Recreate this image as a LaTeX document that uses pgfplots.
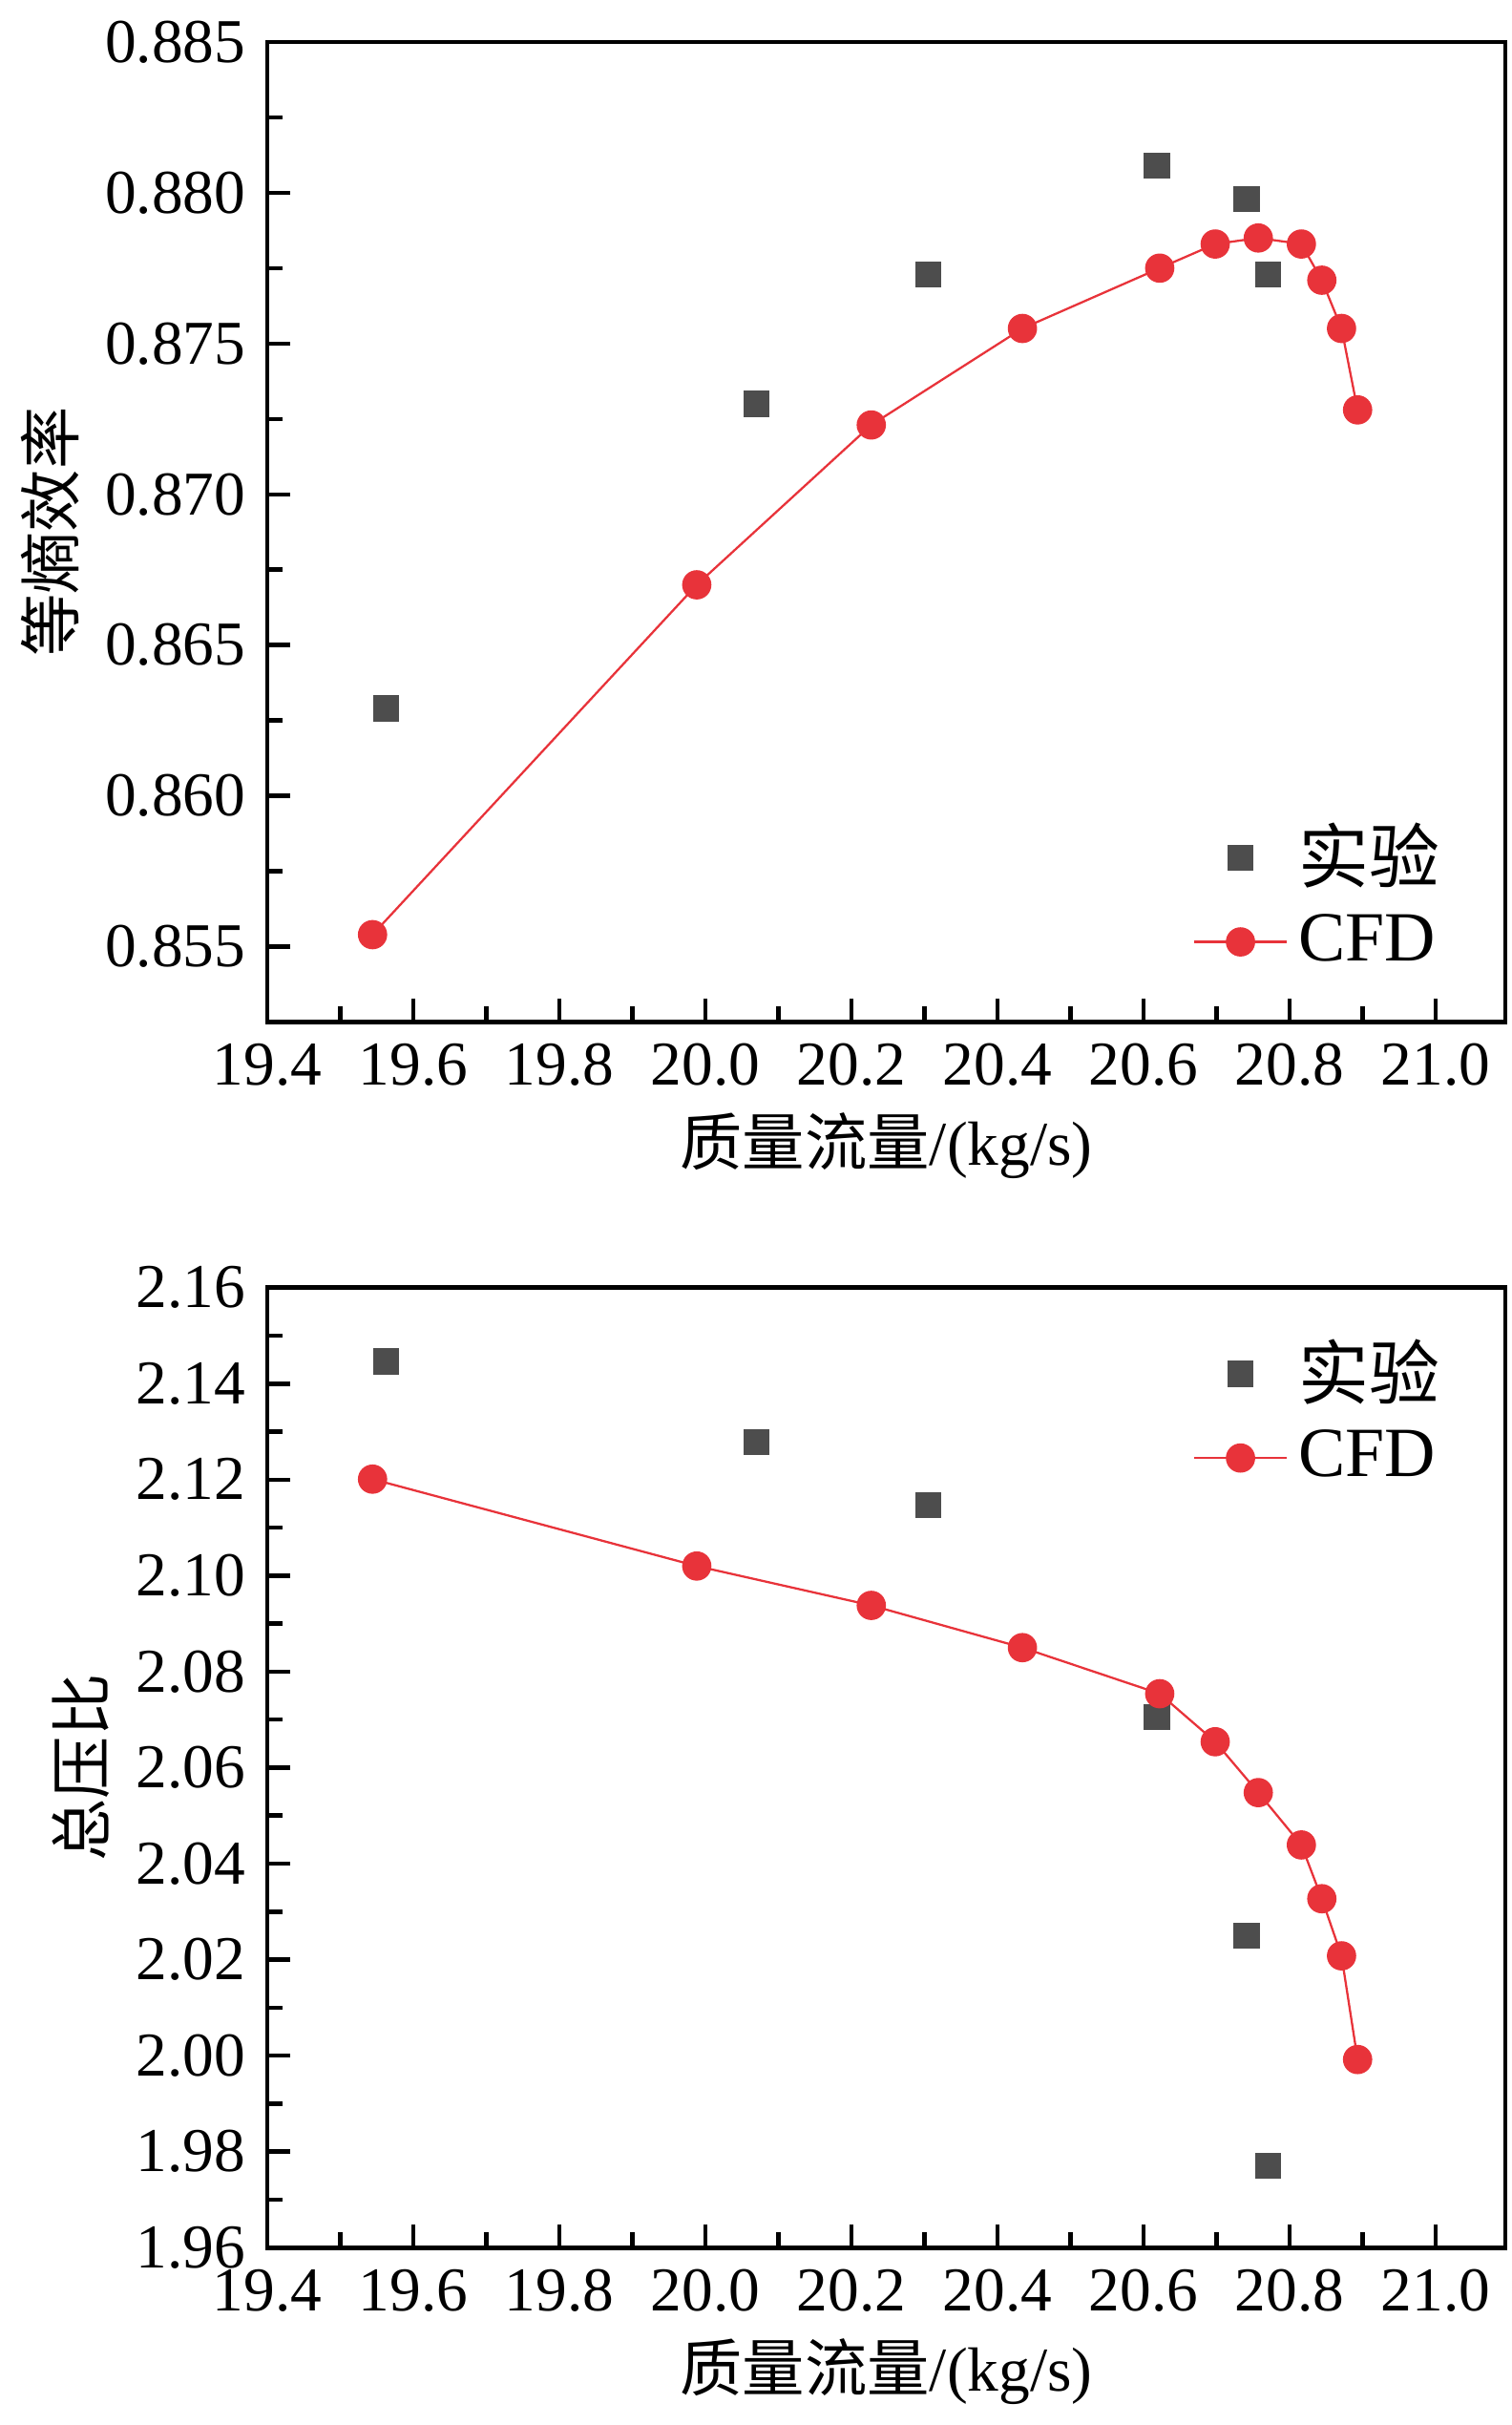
\documentclass[border=0pt]{standalone}
\usepackage{pgfplots}
\pgfplotsset{compat=1.18}
\usepackage{fontspec}
\setmainfont{Liberation Serif}
\newfontfamily\cjk{Noto Sans CJK SC}
\definecolor{cfd}{HTML}{E8333A}
\definecolor{exp}{HTML}{4D4D4D}
\begin{document}
\fontsize{11.5}{13.5}\selectfont
\begin{tikzpicture}
\pgfplotsset{
  every axis/.style={
    scale only axis, width=8.02cm,
    xmin=19.4, xmax=21.095,
    xtick={19.4,19.6,...,21.0},
    minor x tick num=1, minor y tick num=1,
    xtick pos=bottom, ytick pos=left, tick align=inside,
    /pgf/number format/assume math mode=true,
    x tick label style={/pgf/number format/fixed,/pgf/number format/fixed zerofill,/pgf/number format/precision=1},
    xlabel={{\cjk 质量流量}/(kg/s)},
    xlabel style={yshift=3pt},
    ylabel style={yshift=-3pt},
    legend style={draw=none,fill=none,font=\fontsize{13}{15}\selectfont},
    legend cell align=left,
    tick style={black,thick},
    axis line style={thick},
  },
}
\begin{axis}[at={(0,0)}, anchor=south west, height=6.35cm,
  ymin=0.8525, ymax=0.885, ytick={0.855,0.860,...,0.885},
  y tick label style={/pgf/number format/fixed,/pgf/number format/fixed zerofill,/pgf/number format/precision=3},
  ylabel={\cjk 等熵效率},
  legend pos=south east]
\addplot[only marks, mark=square*, mark size=2.2pt, color=exp] coordinates {
(19.563,0.8629)(20.07,0.8730)(20.305,0.8773)(20.618,0.8809)(20.741,0.8798)(20.77,0.8773)};
\addlegendentry{\cjk 实验}
\addplot[cfd, mark=*, mark size=2.5pt] coordinates {
(19.544,0.8554)(19.988,0.8670)(20.227,0.8723)(20.434,0.8755)(20.622,0.8775)(20.698,0.8783)(20.757,0.8785)(20.816,0.8783)(20.844,0.8771)(20.871,0.8755)(20.893,0.8728)};
\addlegendentry{CFD}
\end{axis}
\begin{axis}[at={(0,-7.94cm)}, anchor=south west, height=6.22cm,
  ymin=1.96, ymax=2.16, ytick={1.96,1.98,...,2.16},
  y tick label style={/pgf/number format/fixed,/pgf/number format/fixed zerofill,/pgf/number format/precision=2},
  ylabel={\cjk 总压比},
  legend pos=north east]
\addplot[only marks, mark=square*, mark size=2.2pt, color=exp] coordinates {
(19.563,2.1446)(20.07,2.1278)(20.305,2.1147)(20.618,2.0706)(20.741,2.025)(20.77,1.977)};
\addlegendentry{\cjk 实验}
\addplot[cfd, mark=*, mark size=2.5pt] coordinates {
(19.544,2.1201)(19.988,2.1020)(20.227,2.0938)(20.434,2.0850)(20.622,2.0754)(20.698,2.0654)(20.757,2.0548)(20.816,2.0439)(20.844,2.0327)(20.871,2.0208)(20.893,1.9992)};
\addlegendentry{CFD}
\end{axis}
\end{tikzpicture}
\end{document}
